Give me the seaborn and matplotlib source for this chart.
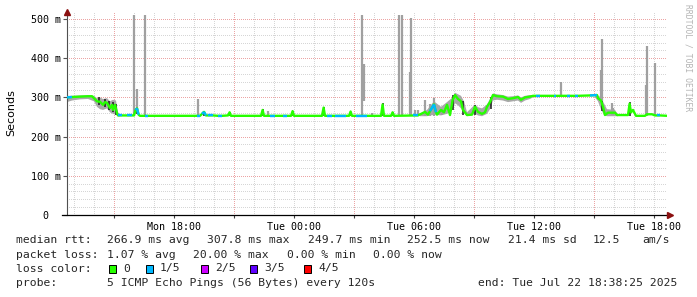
import numpy as np
import pandas as pd
import matplotlib
matplotlib.use("Agg")
import matplotlib.pyplot as plt
from matplotlib.patches import Rectangle
import seaborn as sns
from datetime import datetime, timedelta

# ---------------- data ----------------
START = datetime(2025, 7, 21, 12, 38, 25)
SPAN_H = 30.0

# median rtt (ms) at key times (hours after start) and loss count of the segment that starts there
med_h = [0.00, 0.25, 0.65, 1.05, 1.25, 1.35, 1.50, 1.65, 1.80, 1.90, 2.00, 2.15, 2.25, 2.30, 2.40,
         2.50, 2.55, 2.75, 3.00, 3.25, 3.35, 3.43, 3.50, 3.58, 3.65, 3.90, 4.05, 6.50, 6.65, 6.75,
         6.85, 6.95, 7.05, 7.30, 7.55, 7.75, 8.05, 8.13, 8.20, 9.70, 9.78, 9.85, 10.15, 10.40, 10.80,
         11.00, 11.20, 11.28, 11.35, 12.75, 12.83, 12.90, 13.00, 13.25, 13.40, 13.95, 14.10, 14.18, 14.25,
         14.45, 15.00, 15.70, 15.78, 15.85, 16.20, 16.28, 16.35, 17.30, 17.55, 17.90, 18.05, 18.15, 18.35,
         18.45, 18.50, 18.70, 18.85, 19.00, 19.15, 19.28, 19.40, 19.55, 19.70, 19.80, 20.00, 20.25, 20.40,
         20.55, 20.75, 20.90, 21.00, 21.15, 21.30, 21.50, 21.80, 22.05, 22.30, 22.55, 22.70, 22.90, 23.15,
         23.30, 23.45, 23.65, 24.35, 24.45, 25.00, 25.15, 25.40, 25.55, 26.15, 26.50, 26.55, 26.70, 26.80,
         26.90, 27.05, 27.40, 27.50, 28.05, 28.13, 28.20, 28.30, 28.45, 28.90, 29.00, 29.25, 29.40, 29.50,
         29.65, 30.00]
med_ms = [300, 301, 302, 303, 303, 298, 290, 289, 281, 288, 286, 273, 281, 268, 281,
          260, 254, 254, 254, 254, 254, 268, 272, 256, 253, 253, 253, 253, 253, 258,
          263, 254, 254, 254, 253, 253, 254, 262, 253, 253, 268, 253, 253, 253, 253,
          253, 253, 265, 253, 253, 274, 253, 253, 253, 253, 253, 253, 264, 253,
          253, 253, 253, 282, 253, 253, 262, 253, 254, 254, 263, 256, 265, 282,
          262, 256, 268, 262, 281, 255, 293, 306, 296, 290, 268, 255, 256, 276,
          263, 258, 262, 276, 288, 306, 303, 302, 296, 298, 301, 294, 300, 302,
          304, 304, 304, 304, 304, 304, 304, 304, 304, 305, 306, 298, 292, 276,
          255, 261, 261, 255, 255, 284, 262, 268, 253, 253, 257, 257, 254, 254,
          254, 253]
med_loss = [1, 0, 0, 0, 0, 0, 0, 0, 0, 0, 0, 0, 0, 0, 0,
            0, 1, 0, 1, 0, 0, 1, 1, 0, 0, 1, 0, 1, 0, 1,
            1, 0, 1, 0, 1, 0, 0, 0, 0, 0, 0, 0, 1, 0, 1,
            0, 0, 0, 0, 0, 0, 0, 1, 0, 1, 0, 0, 0, 0,
            1, 0, 0, 0, 0, 0, 0, 0, 1, 0, 0, 0, 1, 1,
            0, 0, 0, 0, 0, 0, 0, 0, 0, 0, 0, 0, 0, 0,
            0, 0, 0, 0, 0, 0, 0, 0, 0, 0, 0, 0, 0, 0,
            0, 1, 0, 1, 0, 1, 0, 1, 0, 1, 0, 0, 0, 0,
            0, 0, 0, 0, 0, 0, 0, 0, 0, 0, 0, 0, 0, 1,
            0, 0]

# smoke band (ms) in the noisy stretches; NaN separates stretches
smoke_h = [0.00, 0.25, 0.65, 1.05, 1.35, 1.50, 1.65, 1.80, 2.00, 2.15, 2.30, 2.45, 2.55, 2.65, np.nan,
           17.65, 18.00, 18.35, 18.70, 19.00, 19.28, 19.40, 19.55, 19.70, 19.85, 20.00, 20.40, 20.55,
           20.75, 21.00, 21.15, 21.30, 21.50, 21.80, 22.05, 22.30, 22.55, 22.70, 22.90, 23.15, 23.30, np.nan,
           26.40, 26.55, 26.70, 26.85, 27.00, 27.40, 27.55]
smoke_lo = [288, 292, 295, 296, 290, 276, 270, 268, 272, 262, 258, 256, 252, 252, np.nan,
            252, 252, 256, 254, 258, 270, 285, 280, 272, 260, 252, 258, 254,
            252, 258, 270, 292, 294, 292, 288, 290, 292, 286, 292, 296, 300, np.nan,
            300, 290, 270, 255, 252, 252, 252]
smoke_hi = [304, 304, 305, 305, 304, 298, 300, 296, 298, 290, 294, 292, 262, 256, np.nan,
            258, 268, 290, 276, 288, 300, 312, 308, 304, 290, 262, 282, 275,
            272, 282, 296, 310, 308, 306, 302, 303, 305, 300, 304, 306, 306, np.nan,
            308, 305, 300, 285, 270, 268, 256]

# single outlier pings (light smoke spikes)
spike_h = [3.35, 3.50, 3.88, 6.55, 10.05, 11.65, 14.75, 14.87, 15.23, 16.62, 16.77, 17.15, 17.22,
           17.42, 17.57, 17.92, 18.15, 18.33, 18.75, 24.68, 26.68, 26.77, 27.23, 27.30, 28.95, 29.02,
           29.40]
spike_lo = [253, 268, 253, 253, 253, 253, 253, 290, 253, 253, 253, 253, 253,
            253, 253, 253, 253, 253, 255, 304, 290, 290, 256, 256, 253, 253,
            253]
spike_top = [510, 321, 510, 296, 265, 256, 510, 385, 261, 510, 510, 365, 502,
             268, 268, 293, 283, 298, 270, 340, 370, 450, 285, 272, 332, 430,
             387]

# dark smoke (tight ping clusters)
dark_h = [1.60, 1.90, 2.10, 2.30, 2.45, 3.48, 6.85, 8.13, 9.78, 11.28, 12.83, 14.18, 15.78, 16.28,
          19.30, 19.80, 20.40, 21.20, 26.75, 28.13]
dark_lo = [280, 275, 268, 262, 256, 258, 253, 253, 253, 253, 253, 253, 253, 253,
           268, 256, 255, 270, 265, 253]
dark_hi = [300, 295, 290, 288, 282, 272, 263, 262, 270, 265, 275, 264, 285, 262,
           306, 290, 280, 300, 290, 287]

loss_labels = ["0", "1/5", "2/5", "3/5", "4/5"]
loss_colors = ["#26ff00", "#00b8ff", "#cc00ff", "#5e00ff", "#ff0000"]

rtt_stats = ["266.9 ms avg", "307.8 ms max", "249.7 ms min", "252.5 ms now", "21.4 ms sd", "12.5", "am/s"]
loss_stats = ["1.07 % avg", "20.00 % max", "0.00 % min", "0.00 % now"]
probe_text = "5 ICMP Echo Pings (56 Bytes) every 120s"
end_text = "end: Tue Jul 22 18:38:25 2025"

y_ticks = [0, 100, 200, 300, 400, 500]

# ---------------- figure ----------------
sns.set_theme(style="white")
plt.rcParams["font.family"] = ["DejaVu Sans Mono", "DejaVu Sans"]

W, H = 697, 297
fig = plt.figure(figsize=(W / 100, H / 100), dpi=100)
fig.patch.set_facecolor("white")
ax = fig.add_axes([67 / W, 82 / H, 600 / W, 203 / H])
ax.set_facecolor("white")
YMAX = 203 / 0.392
ax.set_xlim(0, SPAN_H)
ax.set_ylim(0, YMAX)

def fx(px):
    return px / W

def fy(py):
    return 1 - py / H

# grid (pixel dotted)
minor_c, major_c = "#d6d6d6", "#eca4a4"
gkw = dict(lw=0.72, dashes=(0.72, 1.44), zorder=0, antialiased=False)
for v in range(20, 520, 20):
    c = major_c if v % 100 == 0 else minor_c
    ax.axhline(v, color=c, **gkw)

first = START.replace(minute=0, second=0) + timedelta(hours=1)
lab_pos, lab_txt, tick3 = [], [], []
t = first
while True:
    h = (t - START).total_seconds() / 3600
    if h > SPAN_H:
        break
    c = major_c if t.hour % 6 == 3 else minor_c
    ax.axvline(h, color=c, **gkw)
    if t.hour % 6 == 0:
        lab_pos.append(h)
        lab_txt.append(t.strftime("%a %H:%M"))
    elif t.hour % 3 == 0:
        tick3.append(h)
    t += timedelta(hours=1)

# smoke
sh = np.array(smoke_h, dtype=float)
ax.fill_between(sh, smoke_lo, smoke_hi, color="#a8a8a8", lw=0, zorder=2)
ax.vlines(spike_h, spike_lo, spike_top, color="#a0a0a0", lw=1.6, zorder=2)
ax.vlines(dark_h, dark_lo, dark_hi, color="#1c1c1c", lw=1.1, zorder=3)

# median line coloured by loss
df = pd.DataFrame({"h": med_h, "ms": med_ms})
sns.lineplot(data=df, x="h", y="ms", color=loss_colors[0], lw=1.7, ax=ax, zorder=4,
             estimator=None, sort=False)
for i in range(len(med_h) - 1):
    if med_loss[i] > 0:
        ax.plot(med_h[i:i + 2], med_ms[i:i + 2], color=loss_colors[med_loss[i]], lw=1.7,
                solid_capstyle="butt", zorder=5)

ax.set_xlabel("")
ax.set_ylabel("")

# axes, ticks
for s in ["top", "right"]:
    ax.spines[s].set_visible(False)
ax.spines["left"].set_color("#505050")
ax.spines["left"].set_linewidth(0.8)
ax.spines["bottom"].set_color("#000000")
ax.spines["bottom"].set_linewidth(0.9)
ax.spines["bottom"].set_bounds(-0.25, SPAN_H + 0.15)

ax.set_yticks(y_ticks)
ax.set_yticklabels([f"{v} m" if v else "0  " for v in y_ticks])
ax.set_xticks(lab_pos)
ax.set_xticklabels(lab_txt)
ax.set_xticks(tick3, minor=True)
ax.tick_params(axis="y", which="major", length=3, width=0.8, color="#505050", pad=1.5,
               labelsize=7.2, left=True)
ax.tick_params(axis="x", which="both", length=2.5, width=0.8, color="#404040", pad=2.5,
               labelsize=7.2, bottom=True, direction="out")
for lab in ax.get_xticklabels() + ax.get_yticklabels():
    lab.set_color("#000000")

# arrows
ax.plot([0], [1.0], transform=ax.transAxes, marker="^", ms=4, color="#8b1010",
        clip_on=False, zorder=6)
ax.plot([1.005], [0], transform=ax.transAxes, marker=">", ms=4, color="#8b1010",
        clip_on=False, zorder=6)

# labels
fig.text(fx(11), fy(113), "Seconds", rotation=90, ha="center", va="center",
         fontsize=8, family="DejaVu Sans", color="#000000")
fig.text(fx(688), fy(4), "RRDTOOL / TOBI OETIKER", rotation=270, ha="center", va="top",
         fontsize=5.8, color="#b4b4b4")

# legend block
fs = 8.2
y1, y2, y3, y4 = 240, 254.5, 268.5, 283
fig.text(fx(16), fy(y1), "median rtt:", fontsize=fs, va="center")
for xp, s in zip([107, 207, 308, 407, 508, 593, 642], rtt_stats):
    fig.text(fx(xp), fy(y1), s, fontsize=fs, va="center")
fig.text(fx(16), fy(y2), "packet loss:", fontsize=fs, va="center")
for xp, s in zip([107, 193, 287, 373], loss_stats):
    fig.text(fx(xp), fy(y2), s, fontsize=fs, va="center")
fig.text(fx(16), fy(y3), "loss color:", fontsize=fs, va="center")
for xp, lab, col in zip([109, 146, 201, 250, 304], loss_labels, loss_colors):
    fig.patches.append(Rectangle((fx(xp), fy(y3 + 4)), 7 / W, 8 / H, transform=fig.transFigure,
                                 facecolor=col, edgecolor="#000000", lw=0.7, figure=fig))
    fig.text(fx(xp + 14), fy(y3), lab, fontsize=fs, va="center")
fig.text(fx(16), fy(y4), "probe:", fontsize=fs, va="center")
fig.text(fx(107), fy(y4), probe_text, fontsize=fs, va="center")
fig.text(fx(478), fy(y4), end_text, fontsize=fs, va="center")

fig.savefig("out.png", dpi=100, facecolor="white")
